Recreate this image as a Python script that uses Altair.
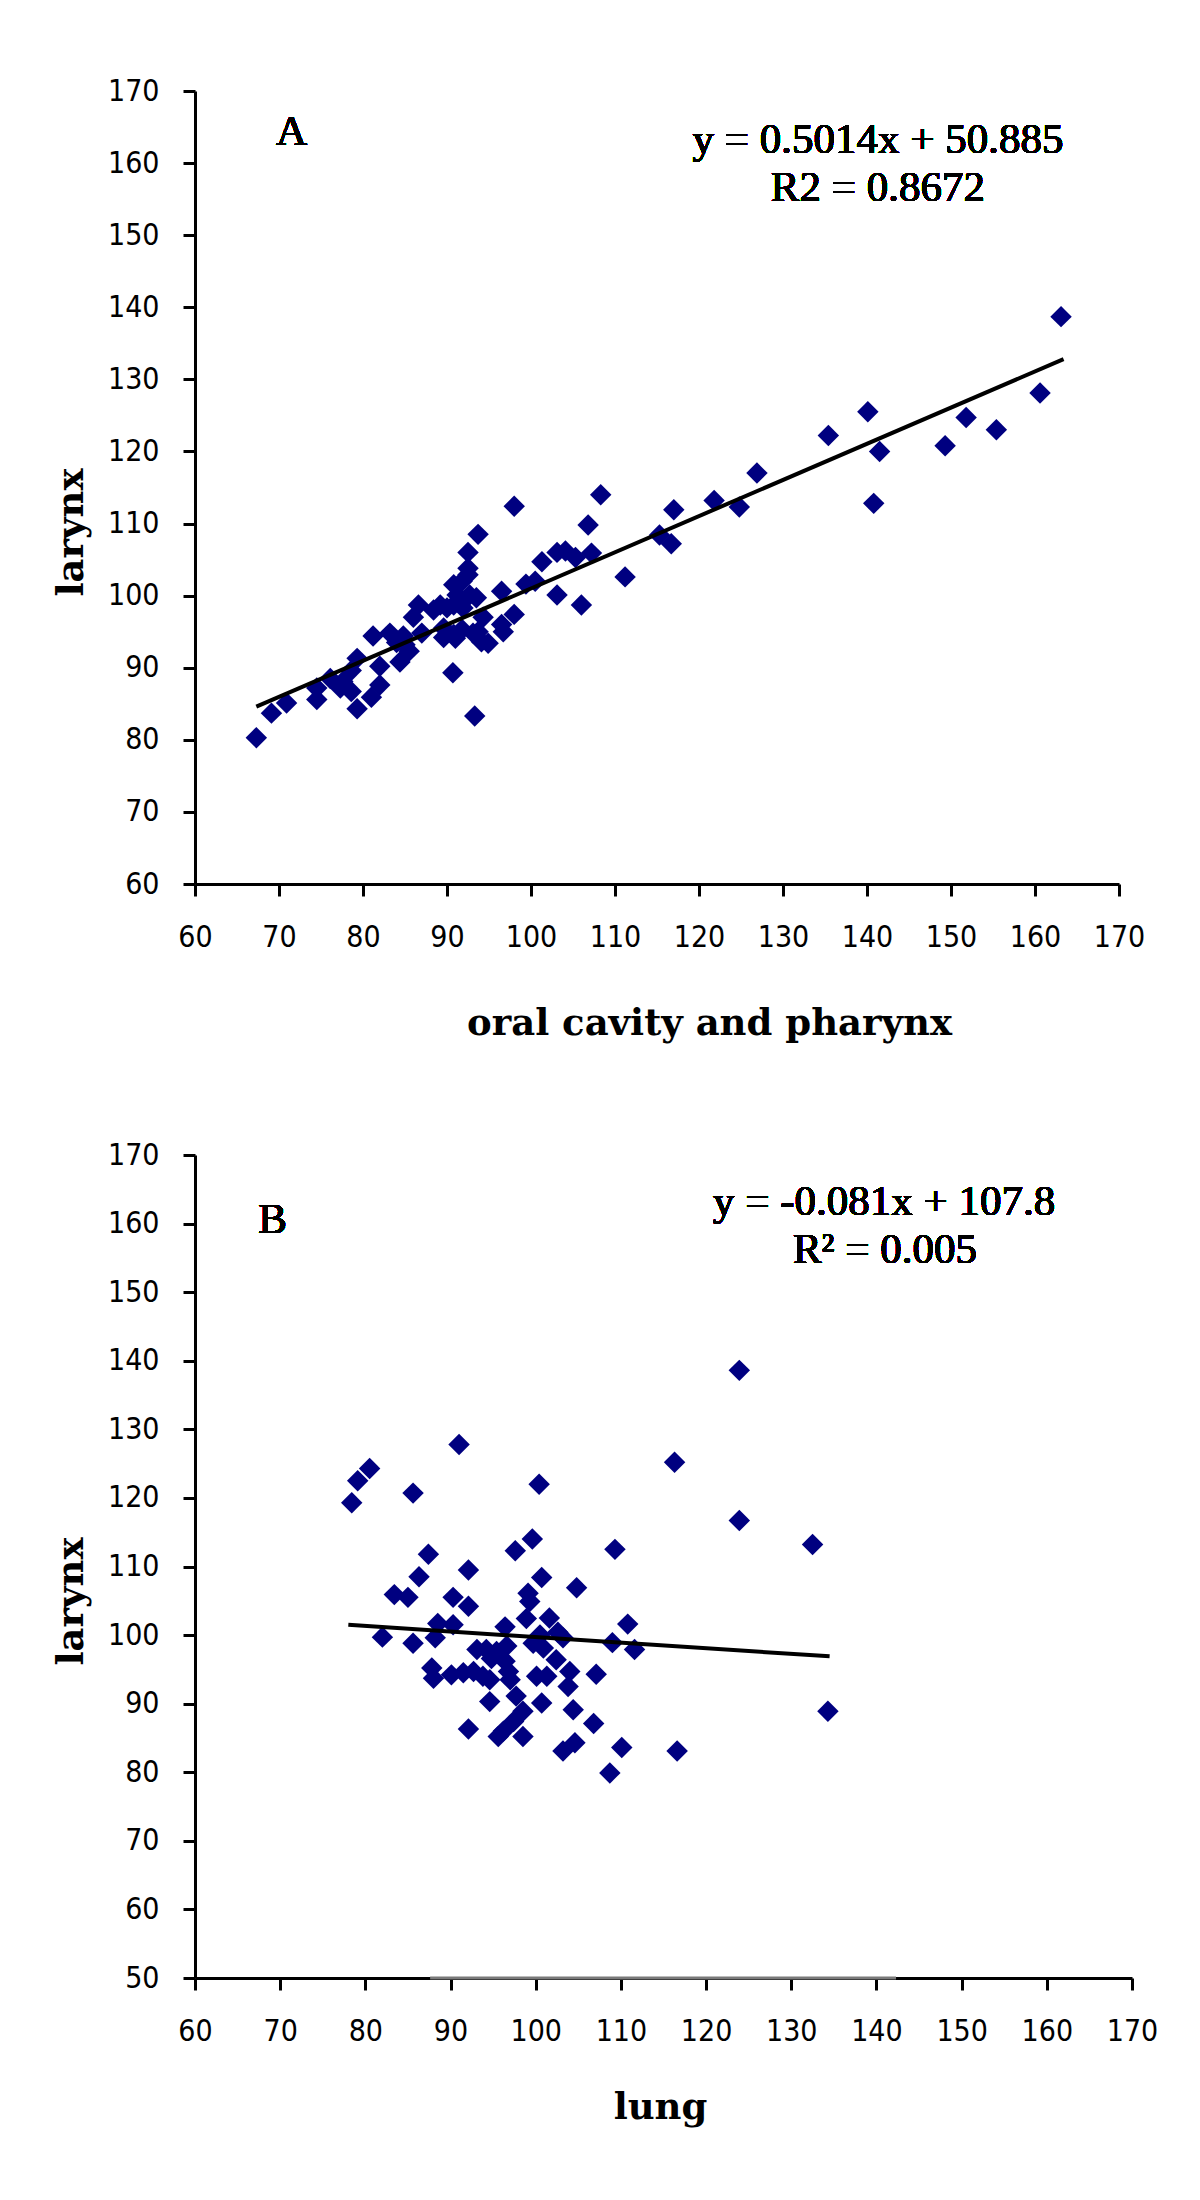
import altair as alt
import pandas as pd

# ---------------- Panel A data: oral cavity and pharynx vs larynx ----------------
a_x = [67.3, 69.1, 70.9, 74.5, 74.5, 76.1, 77.3, 77.6, 78.6, 78.6, 79.3, 79.3,
       81.0, 82.0, 82.0, 81.2, 83.2, 84.0, 84.8, 85.0, 85.5, 84.4, 86.0, 86.6,
       87.0, 88.4, 89.2, 90.0, 89.6, 89.6, 90.8, 90.8, 91.0, 91.8, 91.9, 91.2,
       90.8, 91.8, 92.5, 92.5, 92.5, 93.7, 92.7, 93.5, 93.7, 93.1, 94.1, 94.9,
       94.3, 90.7, 93.3, 96.5, 96.5, 96.7, 98.0, 98.0, 99.4, 100.5, 101.3, 103.1,
       104.1, 105.3, 103.1, 106.0, 106.8, 107.2, 108.3, 111.2, 115.3, 116.7, 117.0,
       121.8, 124.8, 126.9, 135.4, 140.1, 140.8, 141.5, 149.3, 151.8, 155.4, 160.6,
       163.1]
a_y = [80.3, 83.7, 85.1, 85.6, 87.2, 88.5, 87.2, 88.1, 86.7, 89.6, 91.3, 84.3,
       85.9, 87.6, 90.2, 94.4, 94.8, 93.5, 94.4, 93.2, 92.3, 90.8, 97.0, 98.7,
       94.8, 98.0, 98.7, 98.3, 95.5, 94.2, 98.7, 94.6, 94.1, 95.3, 98.3, 100.1,
       101.5, 102.0, 102.9, 103.8, 106.0, 108.5, 100.1, 99.7, 95.0, 94.8, 93.6, 93.4,
       97.0, 89.3, 83.3, 100.6, 96.0, 95.0, 97.4, 112.4, 101.6, 102.0, 104.7, 106.0,
       106.2, 105.3, 100.1, 98.7, 109.8, 105.9, 114.0, 102.6, 108.4, 107.2, 111.9,
       113.2, 112.3, 117.0, 122.2, 125.5, 112.8, 120.0, 120.8, 124.7, 123.0, 128.1,
       138.7]
a_fit_x = [67.3, 163.4]
a_fit_y = [84.6, 132.8]

# ---------------- Panel B data: lung vs larynx ----------------
b_x = [78.4, 79.1, 80.5, 85.6, 91.0, 100.4, 87.4, 92.1, 97.6, 99.6, 109.3, 86.3,
       100.7, 123.9, 116.3, 123.9, 132.5, 110.8, 109.0, 111.6, 134.3, 110.1, 116.6,
       108.7, 107.1, 106.8, 104.8, 83.4, 85.0, 99.1, 99.3, 90.3, 92.1, 98.9, 101.6,
       88.5, 90.3, 96.4, 102.6, 82.0, 85.6, 88.2, 100.5, 99.7, 100.9, 103.2, 93.1,
       94.2, 95.4, 96.6, 94.8, 96.4, 102.4, 87.8, 88.0, 90.1, 91.5, 92.7, 93.8,
       94.6, 96.8, 97.0, 100.1, 101.3, 104.0, 103.8, 94.6, 97.7, 100.7, 104.4, 98.5,
       97.4, 96.2, 95.6, 98.5, 92.1, 103.2, 104.6]
b_y = [119.3, 122.5, 124.3, 120.7, 127.8, 122.0, 111.8, 109.5, 112.3, 114.0, 112.5,
       108.5, 108.4, 138.6, 125.2, 116.7, 113.2, 101.6, 98.9, 97.9, 88.9, 83.6, 83.1,
       79.9, 94.3, 87.1, 106.9, 105.9, 105.5, 106.1, 104.9, 105.5, 104.2, 102.4, 102.5,
       101.7, 101.5, 101.2, 100.4, 99.7, 98.8, 99.6, 100.0, 98.8, 98.1, 99.6, 97.9,
       97.9, 97.6, 98.4, 96.6, 96.2, 96.4, 95.2, 93.7, 94.2, 94.5, 94.7, 94.0,
       93.5, 94.7, 93.5, 94.0, 94.0, 94.7, 92.5, 90.3, 91.1, 90.1, 89.1, 88.9,
       87.4, 86.0, 85.2, 85.2, 86.3, 83.1, 84.3]
b_fit_x = [78.0, 134.5]
b_fit_y = [101.5, 96.9]
# grey stretch visible over the lower axis of panel B (x range, in data units)
b_grey_x = [87.6, 142.3]

x_ticks = [60, 70, 80, 90, 100, 110, 120, 130, 140, 150, 160, 170]
a_y_ticks = [60, 70, 80, 90, 100, 110, 120, 130, 140, 150, 160, 170]
b_y_ticks = [50, 60, 70, 80, 90, 100, 110, 120, 130, 140, 150, 160, 170]

a_labels = ["A", "y = 0.5014x + 50.885", "R2 = 0.8672"]
b_labels = ["B", "y = -0.081x + 107.8", "R² = 0.005"]

NAVY = "#000080"
TICK_FONT = "DejaVu Sans Condensed, DejaVu Sans, sans-serif"
TITLE_FONT = "DejaVu Serif"
TEXT_FONT = "Liberation Serif"


def axis(values, title, orient, title_x, title_y, label_pad):
    common = dict(
        values=values, grid=False, domainColor="black", domainWidth=3,
        tickColor="black", tickWidth=3, tickSize=12,
        labelFont=TICK_FONT, labelFontSize=30, labelColor="black",
        labelPadding=label_pad, labelOverlap=False, labelFlush=False,
        title=title, titleFont=TITLE_FONT, titleFontSize=37,
        titleFontWeight="bold", titleColor="black",
        titleX=title_x, titleY=title_y, titleBaseline="alphabetic",
        titleAlign="center",
    )
    if orient == "left":
        common["titleAngle"] = 270
    return alt.Axis(**common)


def panel(px, py, fx, fy, ydom, yticks, xtitle, xtx, xty, yty, w, h,
          labels, letter_pos, eq1_pos, eq2_pos, grey=None):
    df = pd.DataFrame({"x": px, "y": py})
    fit = pd.DataFrame({"x": fx, "y": fy})
    xs = alt.Scale(domain=[60, 170], nice=False, zero=False)
    ys = alt.Scale(domain=ydom, nice=False, zero=False)
    pts = alt.Chart(df).mark_point(
        shape="diamond", filled=True, size=460, color=NAVY, opacity=1
    ).encode(
        x=alt.X("x:Q", scale=xs, axis=axis(x_ticks, xtitle, "bottom", xtx, xty, 26)),
        y=alt.Y("y:Q", scale=ys, axis=axis(yticks, "larynx", "left", -113, yty, 24)),
    )
    line = alt.Chart(fit).mark_line(color="black", strokeWidth=4).encode(
        x=alt.X("x:Q", scale=xs), y=alt.Y("y:Q", scale=ys)
    )
    layers = [pts, line]
    if grey is not None:
        gdf = pd.DataFrame({"x": [grey[0]], "x2": [grey[1]], "y": [ydom[0]]})
        layers.append(
            alt.Chart(gdf).mark_rule(color="#7a7a7a", strokeWidth=3).encode(
                x=alt.X("x:Q", scale=xs), x2="x2:Q", y=alt.Y("y:Q", scale=ys)
            )
        )
    for txt, pos in zip(labels, [letter_pos, eq1_pos, eq2_pos]):
        layers.append(
            alt.Chart(df).mark_text(
                text=txt, font=TEXT_FONT, fontSize=43, color="black",
                fontWeight="normal", align="center", baseline="alphabetic"
            ).encode(x=alt.datum(pos[0]), y=alt.datum(pos[1]))
        )
    return alt.layer(*layers).properties(width=w, height=h)


chart_a = panel(a_x, a_y, a_fit_x, a_fit_y, [60, 170], a_y_ticks,
                "oral cavity and pharynx", 514, 150, 441, 924, 793,
                a_labels, (71.5, 162.5), (141.3, 161.4), (141.3, 154.8))
chart_b = panel(b_x, b_y, b_fit_x, b_fit_y, [50, 170], b_y_ticks,
                "lung", 465, 140, 446, 937, 823,
                b_labels, (69.1, 158.6), (140.9, 161.2), (141.0, 154.2),
                grey=b_grey_x)

chart = alt.vconcat(chart_a, chart_b, spacing=99).properties(
    padding={"top": 68, "left": 44, "right": 5, "bottom": 5},
    background="white",
).configure_view(stroke=None)

chart.save("out.html", embed_options={"renderer": "svg", "actions": False})
